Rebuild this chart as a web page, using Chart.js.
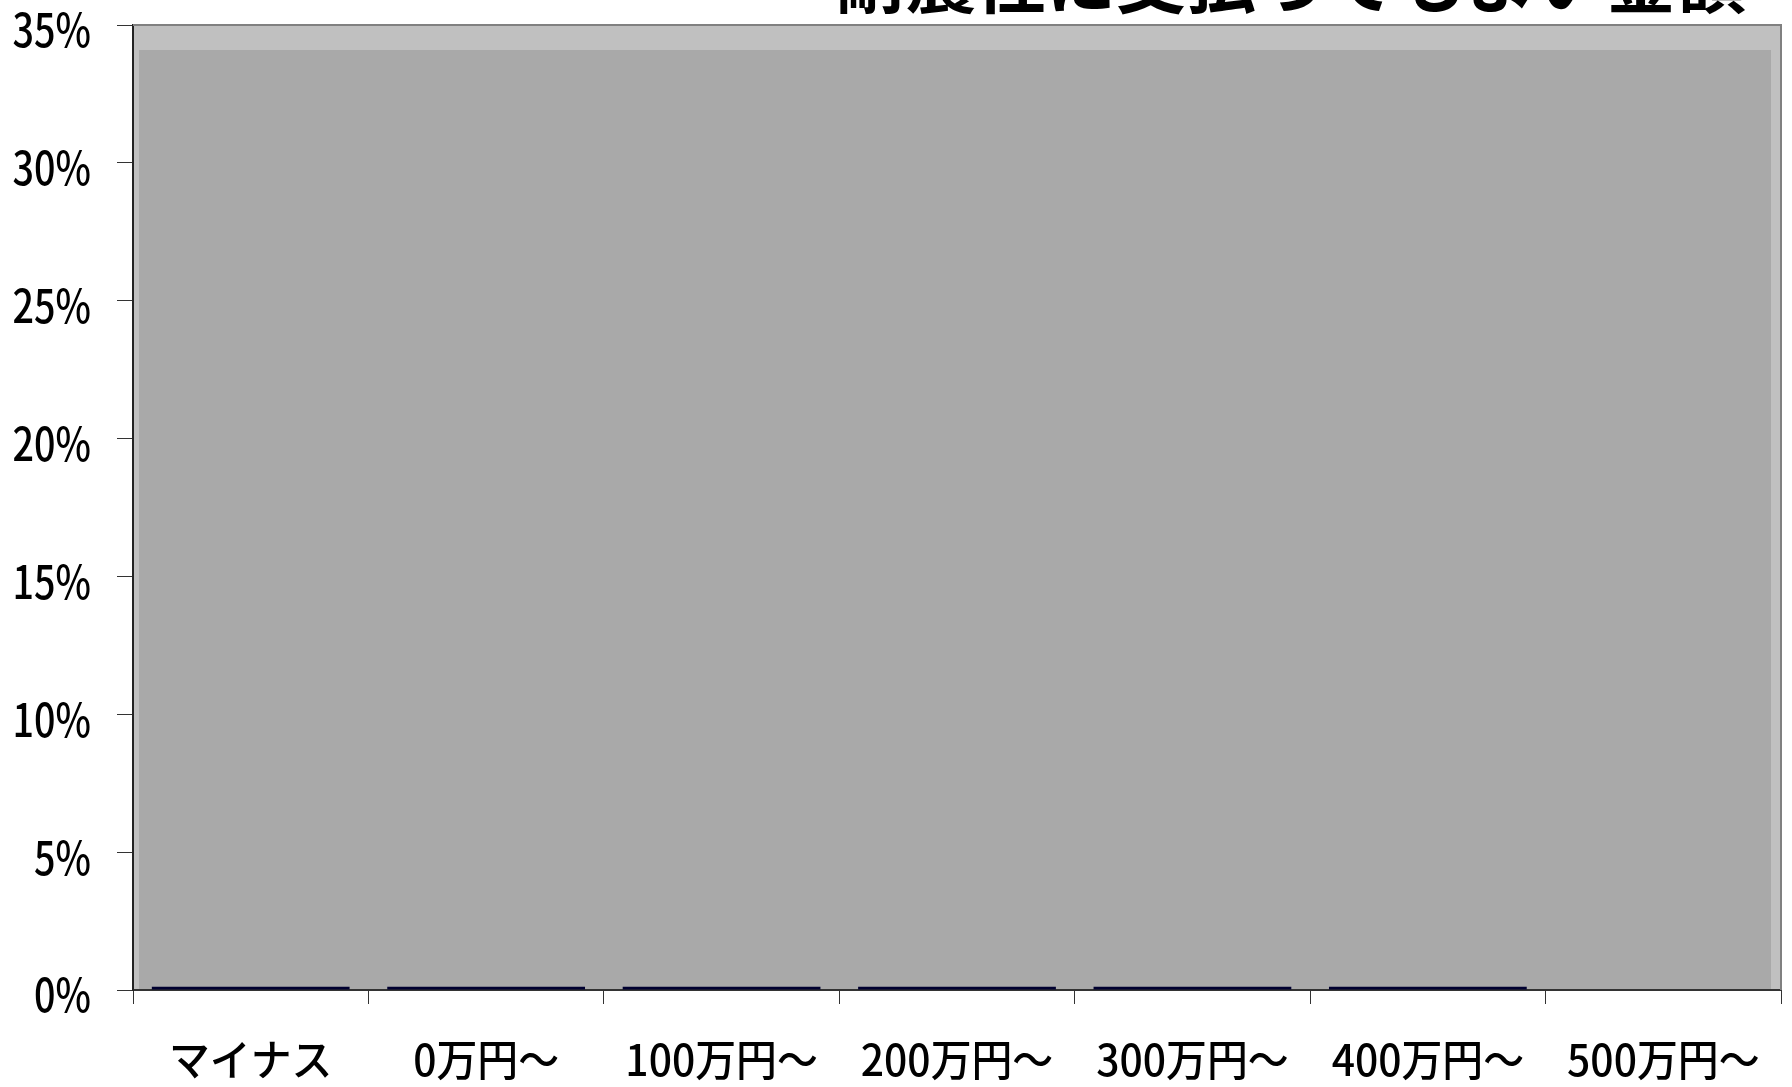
<!DOCTYPE html>
<html lang="ja">
<head>
<meta charset="utf-8">
<title>耐震性に支払ってもよい金額</title>
<script src="https://cdn.jsdelivr.net/npm/chart.js@4/dist/chart.umd.min.js"></script>
<style>
    html, body { margin: 0; padding: 0; background: #fff; }
    #wrap { width: 1792px; height: 1087px; }
</style>
</head>
<body>
<div id="wrap"><canvas id="payChart" width="1792" height="1087"></canvas></div>
<script>
const titleText = '耐震性に支払ってもよい金額';
const categories = ['マイナス', '0万円～', '100万円～', '200万円～', '300万円～', '400万円～', '500万円～'];
const shares = [0.12, 0.12, 0.12, 0.12, 0.12, 0.12, 0];   // %
const yTicks = [0, 5, 10, 15, 20, 25, 30, 35];

const jpFont = "'Noto Sans CJK JP', 'Noto Sans', sans-serif";

// grey plot area with a lighter rim, drawn under the bars
const plotBackground = {
    id: 'plotBackground',
    beforeDraw(chart) {
        const { ctx, chartArea: a } = chart;
        ctx.save();
        ctx.fillStyle = '#c0c0c0';
        ctx.fillRect(a.left, a.top, a.right - a.left, a.bottom - a.top);
        ctx.fillStyle = '#a9a9a9';
        ctx.fillRect(a.left + 6, a.top + 25, a.right - a.left - 16, a.bottom - a.top - 25);
        ctx.restore();
    },
    afterDraw(chart) {
        const { ctx, chartArea: a } = chart;
        ctx.save();
        ctx.strokeStyle = '#808080';
        ctx.lineWidth = 2;
        ctx.beginPath();
        ctx.moveTo(a.left, a.top);
        ctx.lineTo(a.right, a.top);
        ctx.lineTo(a.right, a.bottom);
        ctx.stroke();
        // title sits mostly above the canvas edge
        ctx.fillStyle = '#000';
        ctx.font = 'bold 70px ' + jpFont;
        ctx.textAlign = 'right';
        ctx.textBaseline = 'alphabetic';
        ctx.fillText(titleText, 1746, 8);
        ctx.restore();
    }
};

// tick labels drawn at the scales' own tick positions (y ones squeezed sideways)
const tickLabels = {
    id: 'tickLabels',
    afterDraw(chart) {
        const { ctx, scales } = chart;
        ctx.save();
        ctx.fillStyle = '#000';
        ctx.textBaseline = 'middle';

        ctx.font = '500 46px ' + jpFont;
        ctx.textAlign = 'right';
        const yRight = scales.y.left + scales.y.width - 16 - 26;
        yTicks.forEach(v => {
            const py = scales.y.getPixelForValue(v) + 5;
            ctx.save();
            ctx.translate(yRight, py);
            ctx.scale(0.82, 1);
            ctx.fillText(v + '%', 0, 0);
            ctx.restore();
        });

        ctx.font = '500 43px ' + jpFont;
        ctx.textAlign = 'center';
        const xMid = scales.x.top + 70;
        categories.forEach((c, i) => {
            const px = scales.x.getPixelForTick(i);
            ctx.save();
            ctx.translate(px, xMid);
            ctx.scale(0.95, 1);
            ctx.fillText(c, 0, 0);
            ctx.restore();
        });
        ctx.restore();
    }
};

new Chart(document.getElementById('payChart'), {
    type: 'bar',
    data: {
        labels: categories,
        datasets: [{
            data: shares,
            backgroundColor: '#000030',
            borderWidth: 0,
            barPercentage: 0.84,
            categoryPercentage: 1.0
        }]
    },
    options: {
        responsive: false,
        animation: false,
        layout: { padding: { top: 25, right: 11, left: 0, bottom: 0 } },
        plugins: {
            legend: { display: false },
            tooltip: { enabled: false },
            title: { display: false }
        },
        scales: {
            x: {
                grid: {
                    offset: true,
                    drawOnChartArea: false,
                    drawTicks: true,
                    tickLength: 14,
                    color: '#333'
                },
                border: { display: true, color: '#333', width: 2 },
                ticks: { display: false },
                afterFit(scale) { scale.height = 97; }
            },
            y: {
                min: 0,
                max: 35,
                afterBuildTicks(scale) { scale.ticks = yTicks.map(v => ({ value: v })); },
                grid: {
                    drawOnChartArea: false,
                    drawTicks: true,
                    tickLength: 16,
                    color: '#333'
                },
                border: { display: true, color: '#222', width: 2 },
                ticks: { display: false },
                afterFit(scale) { scale.width = 133; }
            }
        }
    },
    plugins: [plotBackground, tickLabels]
});
</script>
</body>
</html>
